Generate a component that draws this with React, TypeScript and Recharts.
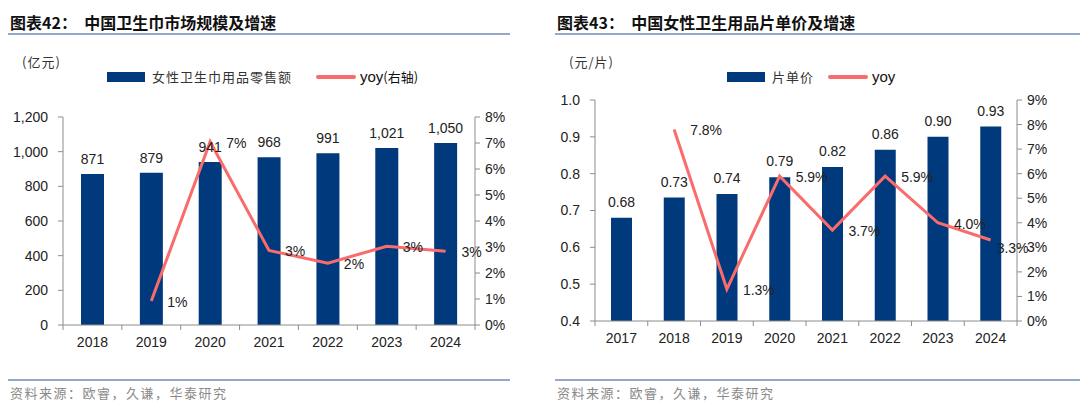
import React from 'react';
import { ComposedChart, Bar, Line, XAxis, YAxis, LabelList } from 'recharts';

// 图表42 data
const marketYears = ['2018', '2019', '2020', '2021', '2022', '2023', '2024'];
const marketSales = [871, 879, 941, 968, 991, 1021, 1050];
const marketYoy = [null, 0.0092, 0.0705, 0.0287, 0.0238, 0.0303, 0.0284];
const marketYoyLabels = ['', '1%', '7%', '3%', '2%', '3%', '3%'];
const marketLeftTicks = [0, 200, 400, 600, 800, 1000, 1200];
const marketRightTicks = [0, 0.01, 0.02, 0.03, 0.04, 0.05, 0.06, 0.07, 0.08];

// 图表43 data
const priceYears = ['2017', '2018', '2019', '2020', '2021', '2022', '2023', '2024'];
const pricePerPiece = [0.68, 0.735, 0.745, 0.79, 0.818, 0.865, 0.9, 0.928];
const priceLabels = ['0.68', '0.73', '0.74', '0.79', '0.82', '0.86', '0.90', '0.93'];
const priceYoy = [null, 0.078, 0.013, 0.059, 0.037, 0.059, 0.04, 0.033];
const priceYoyLabels = ['', '7.8%', '1.3%', '5.9%', '3.7%', '5.9%', '4.0%', '3.3%'];
const priceLeftTicks = [0.4, 0.5, 0.6, 0.7, 0.8, 0.9, 1.0];
const priceRightTicks = [0, 0.01, 0.02, 0.03, 0.04, 0.05, 0.06, 0.07, 0.08, 0.09];

const marketData = marketYears.map((year, i) => ({
  year,
  sales: marketSales[i],
  yoy: marketYoy[i],
  yoyLabel: marketYoyLabels[i],
}));

const priceData = priceYears.map((year, i) => ({
  year,
  price: pricePerPiece[i],
  priceLabel: priceLabels[i],
  yoy: priceYoy[i],
  yoyLabel: priceYoyLabels[i],
}));

const BAR_COLOR = '#003A7D';
const LINE_COLOR = '#FA6B6B';
const AXIS_COLOR = '#8C8C8C';
const RULE_COLOR = '#95AACB';
const NUM_FONT = '"Liberation Sans", Arial, sans-serif';
const CJK_FONT = '"Noto Sans CJK SC", sans-serif';

const tickStyle = { fontSize: 14, fill: '#222', fontFamily: NUM_FONT };
const labelStyle = { fontSize: 14, fill: '#222', fontFamily: NUM_FONT };

const CategoryTick = (props: any) => {
  const { x, y, payload, index, visibleTicksCount } = props;
  const half = payload && payload.offset ? payload.offset : 0;
  return (
    <g>
      <line x1={x - half} y1={y} x2={x - half} y2={y + 5} stroke={AXIS_COLOR} />
      {index === visibleTicksCount - 1 && (
        <line x1={x + half} y1={y} x2={x + half} y2={y + 5} stroke={AXIS_COLOR} />
      )}
      <text x={x} y={y + 17} textAnchor="middle" dominantBaseline="central" style={tickStyle}>
        {payload.value}
      </text>
    </g>
  );
};

// yoy labels sit to the right of each point; the last one of 图表43 is nudged in and down like the source
const makeYoyLabel = (count: number, squeezeLast: boolean) => (props: any) => {
  const { x, y, value, index } = props;
  if (!value) return null;
  const last = squeezeLast && index === count - 1;
  return (
    <text
      x={x + (last ? 6 : 16)}
      y={y + (last ? 8 : 1)}
      textAnchor="start"
      dominantBaseline="central"
      style={labelStyle}
    >
      {value}
    </text>
  );
};

const pct = (v: number) => `${Math.round(v * 100)}%`;

const Header = ({ left, width, title, unit }: { left: number; width: number; title: string; unit: string }) => (
  <>
    <div
      style={{
        position: 'absolute', left: left + 2, top: 12, fontFamily: CJK_FONT, fontWeight: 700,
        fontSize: 16, color: '#111', whiteSpace: 'pre', lineHeight: '20px',
      }}
    >
      {title}
    </div>
    <div style={{ position: 'absolute', left, top: 33, width, height: 2, background: RULE_COLOR }} />
    <div
      style={{
        position: 'absolute', left: left + 14, top: 53, fontFamily: CJK_FONT, fontSize: 13,
        color: '#333', lineHeight: '18px', letterSpacing: 1,
      }}
    >
      {unit}
    </div>
    <div style={{ position: 'absolute', left, top: 379, width, height: 2, background: RULE_COLOR }} />
    <div
      style={{
        position: 'absolute', left: left + 2, top: 384, fontFamily: CJK_FONT, fontSize: 13,
        color: '#8A8A8A', lineHeight: '18px', letterSpacing: 1.5,
      }}
    >
      资料来源：欧睿，久谦，华泰研究
    </div>
  </>
);

const LegendRow = ({ left, barX, barName, lineX, lineName }: any) => (
  <>
    <div style={{ position: 'absolute', left: left + barX, top: 72, width: 38, height: 10, background: BAR_COLOR }} />
    <div
      style={{
        position: 'absolute', left: left + barX + 45, top: 67, fontFamily: CJK_FONT, fontSize: 13,
        color: '#333', lineHeight: '20px', letterSpacing: 1, whiteSpace: 'pre',
      }}
    >
      {barName}
    </div>
    <div style={{ position: 'absolute', left: left + lineX, top: 75, width: 40, height: 4, background: LINE_COLOR, borderRadius: 2 }} />
    <div
      style={{
        position: 'absolute', left: left + lineX + 44, top: 67, fontSize: 15, color: '#111',
        lineHeight: '20px', whiteSpace: 'pre', fontFamily: NUM_FONT,
      }}
    >
      {lineName}
    </div>
  </>
);

export default function App() {
  return (
    <div style={{ position: 'absolute', left: 0, top: 0, width: 1080, height: 412, background: '#fff', overflow: 'hidden' }}>
      <Header left={8} width={502} title={'图表42：  中国卫生巾市场规模及增速'} unit="(亿元)" />
      <Header left={555} width={525} title={'图表43：  中国女性卫生用品片单价及增速'} unit="(元/片)" />
      <LegendRow
        left={0}
        barX={107}
        barName="女性卫生巾用品零售额"
        lineX={316}
        lineName={<span>yoy<span style={{ fontFamily: CJK_FONT, fontSize: 13 }}>(右轴)</span></span>}
      />
      <LegendRow left={540} barX={187} barName="片单价" lineX={288} lineName="yoy" />

      <div style={{ position: 'absolute', left: 0, top: 0 }}>
        <ComposedChart
          width={540}
          height={412}
          data={marketData}
          margin={{ top: 117, right: 0, left: 0, bottom: 57 }}
        >
          <XAxis
            dataKey="year"
            height={30}
            stroke={AXIS_COLOR}
            tickLine={false}
            tickSize={0}
            tickMargin={0}
            tick={<CategoryTick />}
            interval={0}
          />
          <YAxis
            yAxisId="left"
            width={63}
            domain={[0, 1200]}
            ticks={marketLeftTicks}
            tickFormatter={(v: number) => v.toLocaleString('en-US')}
            stroke={AXIS_COLOR}
            tickSize={5}
            tickMargin={10}
            tick={tickStyle}
          />
          <YAxis
            yAxisId="right"
            orientation="right"
            width={65}
            domain={[0, 0.08]}
            ticks={marketRightTicks}
            tickFormatter={pct}
            stroke={AXIS_COLOR}
            tickSize={5}
            tickMargin={5}
            tick={tickStyle}
          />
          <Bar yAxisId="left" dataKey="sales" fill={BAR_COLOR} barSize={23} isAnimationActive={false}>
            <LabelList
              dataKey="sales"
              position="top"
              offset={10}
              formatter={(v: any) => Number(v).toLocaleString('en-US')}
              style={labelStyle}
            />
          </Bar>
          <Line
            yAxisId="right"
            dataKey="yoy"
            stroke={LINE_COLOR}
            strokeWidth={3}
            dot={false}
            activeDot={false}
            isAnimationActive={false}
          >
            <LabelList dataKey="yoyLabel" content={makeYoyLabel(marketYears.length, false)} />
          </Line>
        </ComposedChart>
      </div>

      <div style={{ position: 'absolute', left: 540, top: 0 }}>
        <ComposedChart
          width={540}
          height={412}
          data={priceData}
          margin={{ top: 100, right: 0, left: 0, bottom: 61 }}
        >
          <XAxis
            dataKey="year"
            height={30}
            stroke={AXIS_COLOR}
            tickLine={false}
            tickSize={0}
            tickMargin={0}
            tick={<CategoryTick />}
            interval={0}
          />
          <YAxis
            yAxisId="left"
            width={55}
            domain={[0.4, 1.0]}
            ticks={priceLeftTicks}
            tickFormatter={(v: number) => v.toFixed(1)}
            stroke={AXIS_COLOR}
            tickSize={5}
            tickMargin={10}
            tick={tickStyle}
            allowDataOverflow
          />
          <YAxis
            yAxisId="right"
            orientation="right"
            width={63}
            domain={[0, 0.09]}
            ticks={priceRightTicks}
            tickFormatter={pct}
            stroke={AXIS_COLOR}
            tickSize={5}
            tickMargin={5}
            tick={tickStyle}
          />
          <Bar yAxisId="left" dataKey="price" fill={BAR_COLOR} barSize={21} isAnimationActive={false}>
            <LabelList dataKey="priceLabel" position="top" offset={11} style={labelStyle} />
          </Bar>
          <Line
            yAxisId="right"
            dataKey="yoy"
            stroke={LINE_COLOR}
            strokeWidth={3}
            dot={false}
            activeDot={false}
            isAnimationActive={false}
          >
            <LabelList dataKey="yoyLabel" content={makeYoyLabel(priceYears.length, true)} />
          </Line>
        </ComposedChart>
      </div>
    </div>
  );
}
